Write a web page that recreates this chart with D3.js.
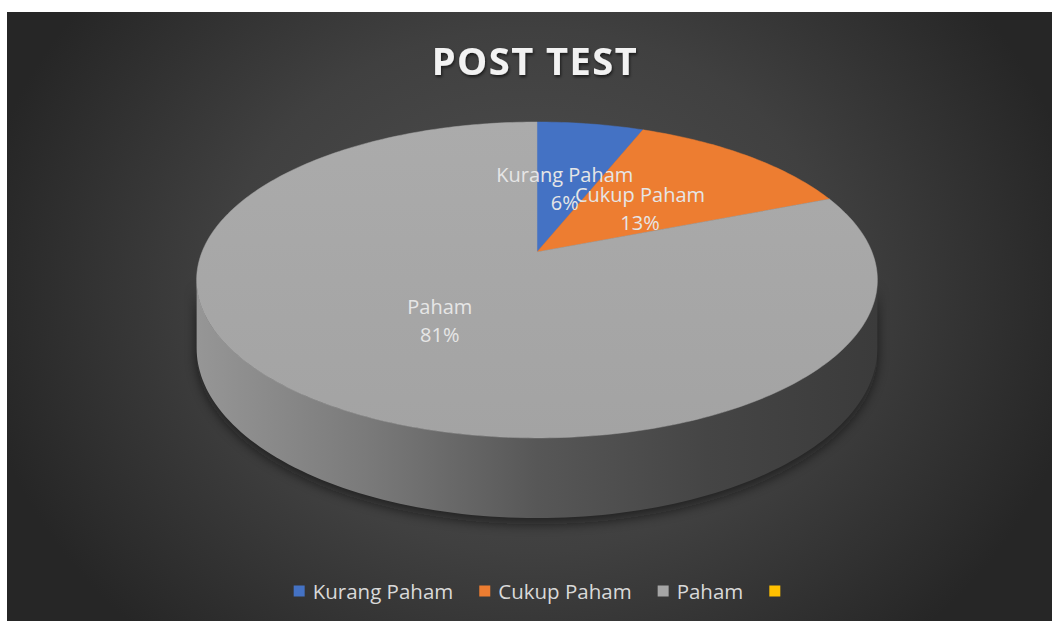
<!DOCTYPE html>
<html>
<head>
<meta charset="utf-8">
<script src="https://cdn.jsdelivr.net/npm/d3@7"></script>
<style>
  html, body { margin: 0; padding: 0; background: #fff; }
  svg { display: block; }
</style>
</head>
<body>
<div id="chart"></div>
<script>
// data
const categories = ["Kurang Paham", "Cukup Paham", "Paham", ""];
const values = [6, 13, 81, 0];
const colors = ["#4472C4", "#ED7D31", "#A5A5A5", "#FFC000"];
const title = "POST TEST";

const W = 1052, H = 621;
const frame = { left: 7, top: 12 };

const svg = d3.select("#chart")
    .append("svg")
    .attr("width", W)
    .attr("height", H);

const defs = svg.append("defs");

// background gradient
const bg = defs.append("radialGradient")
    .attr("id", "bg")
    .attr("gradientUnits", "userSpaceOnUse")
    .attr("cx", 530).attr("cy", 290).attr("r", 560)
    .attr("gradientTransform", "translate(530,290) scale(1,0.85) translate(-530,-290)");
bg.append("stop").attr("offset", "0%").attr("stop-color", "#505050");
bg.append("stop").attr("offset", "55%").attr("stop-color", "#404040");
bg.append("stop").attr("offset", "100%").attr("stop-color", "#262626");

svg.append("rect")
    .attr("x", frame.left).attr("y", frame.top)
    .attr("width", W - frame.left).attr("height", H - frame.top)
    .attr("fill", "url(#bg)");

// side gradient
const sideGrad = defs.append("linearGradient")
    .attr("id", "side")
    .attr("gradientUnits", "userSpaceOnUse")
    .attr("x1", 197).attr("x2", 877).attr("y1", 0).attr("y2", 0);
[["0%", "#969696"], ["25%", "#7a7a7a"], ["50%", "#575757"], ["75%", "#454545"], ["100%", "#3b3b3b"]]
    .forEach(s => sideGrad.append("stop").attr("offset", s[0]).attr("stop-color", s[1]));

const topGrad = defs.append("linearGradient")
    .attr("id", "topface")
    .attr("x1", 0).attr("x2", 0).attr("y1", 0).attr("y2", 1);
topGrad.append("stop").attr("offset", "0%").attr("stop-color", "#ababab");
topGrad.append("stop").attr("offset", "100%").attr("stop-color", "#a3a3a3");

defs.append("filter").attr("id", "blur")
    .attr("x", "-20%").attr("y", "-20%").attr("width", "140%").attr("height", "140%")
    .append("feGaussianBlur").attr("stdDeviation", 6);

defs.append("filter").attr("id", "tshadow")
    .append("feDropShadow")
    .attr("dx", 1).attr("dy", 2).attr("stdDeviation", 1.5)
    .attr("flood-color", "#000").attr("flood-opacity", 0.6);

// perspective projection of the disc
const cx = 537, cy = 252, A = 153, B = 335, k = 0.177, T = 66;
function proj(theta, r, h) {
    const u = r * Math.sin(theta), v = -r * Math.cos(theta);
    const w = 1 - k * v;
    return [cx + B * u / w, cy + (A * v + T * h) / w];
}
const line = d3.line();
const steps = 120;

// visible side: between silhouette points
const thR = Math.acos(-k), thL = 2 * Math.PI - Math.acos(-k);
const sideTop = d3.range(steps + 1).map(i => proj(thR + (thL - thR) * i / steps, 1, 0));
const sideBot = d3.range(steps + 1).map(i => proj(thL - (thL - thR) * i / steps, 1, 1));

// shadow under the pie
const shadowPts = d3.range(steps + 1).map(i => {
    const p = proj(thR + (thL - thR) * i / steps, 1.0, 1);
    return [p[0], p[1] + 6];
});
svg.append("path")
    .attr("d", line(sideTop.concat(shadowPts.reverse())) + "Z")
    .attr("fill", "#111")
    .attr("opacity", 0.6)
    .attr("filter", "url(#blur)");

svg.append("path")
    .attr("d", line(sideTop.concat(sideBot)) + "Z")
    .attr("fill", "url(#side)");

// top face slices
const pie = d3.pie().sort(null).value(d => d)(values);
const g = svg.append("g");
pie.forEach((s, i) => {
    if (s.value === 0) return;
    const n = Math.max(2, Math.ceil((s.endAngle - s.startAngle) / (2 * Math.PI) * 360));
    const pts = [proj(0, 0, 0)].concat(
        d3.range(n + 1).map(j => proj(s.startAngle + (s.endAngle - s.startAngle) * j / n, 1, 0))
    );
    g.append("path")
        .attr("d", line(pts) + "Z")
        .attr("fill", i === 2 ? "url(#topface)" : colors[i])
        .attr("stroke", i === 2 ? "#a6a6a6" : colors[i])
        .attr("stroke-width", 0.5);
});

// data labels
const total = d3.sum(values);
const pct = d3.format(".0%");
const font = "'Open Sans', 'DejaVu Sans', sans-serif";
const labelR = [0.48, 0.46, 0.48];
pie.forEach((s, i) => {
    if (s.value === 0) return;
    const mid = (s.startAngle + s.endAngle) / 2;
    const p = proj(mid, labelR[i], 0);
    const t = svg.append("text")
        .attr("x", p[0]).attr("y", p[1])
        .attr("text-anchor", "middle")
        .attr("font-family", font)
        .attr("font-size", 20)
        .attr("fill", "#e6e6e6");
    t.append("tspan").attr("x", p[0]).attr("dy", "-0.15em").text(categories[i]);
    t.append("tspan").attr("x", p[0]).attr("dy", "1.4em").text(pct(s.value / total));
});

// title
svg.append("text")
    .attr("x", 535).attr("y", 75)
    .attr("text-anchor", "middle")
    .attr("font-family", font)
    .attr("font-weight", "bold")
    .attr("font-size", 38)
    .attr("letter-spacing", 1.5)
    .attr("fill", "#f2f2f2")
    .attr("filter", "url(#tshadow)")
    .text(title);

// legend
const legend = svg.append("g");
const sq = 11, gapText = 8, gapItem = 26;
let lx = 0;
categories.forEach((c, i) => {
    const item = legend.append("g").attr("transform", `translate(${lx},0)`);
    item.append("rect")
        .attr("x", 0).attr("y", -sq / 2 - 1)
        .attr("width", sq).attr("height", sq)
        .attr("fill", colors[i]);
    const txt = item.append("text")
        .attr("x", sq + gapText).attr("y", 0)
        .attr("dy", "0.35em")
        .attr("font-family", font)
        .attr("font-size", 20.5)
        .attr("fill", "#d9d9d9")
        .text(c);
    const tw = c ? txt.node().getComputedTextLength() : 0;
    lx += sq + (c ? gapText + tw : 0) + gapItem;
});
const lw = lx - gapItem;
legend.attr("transform", `translate(${537 - lw / 2},592)`);
</script>
</body>
</html>
